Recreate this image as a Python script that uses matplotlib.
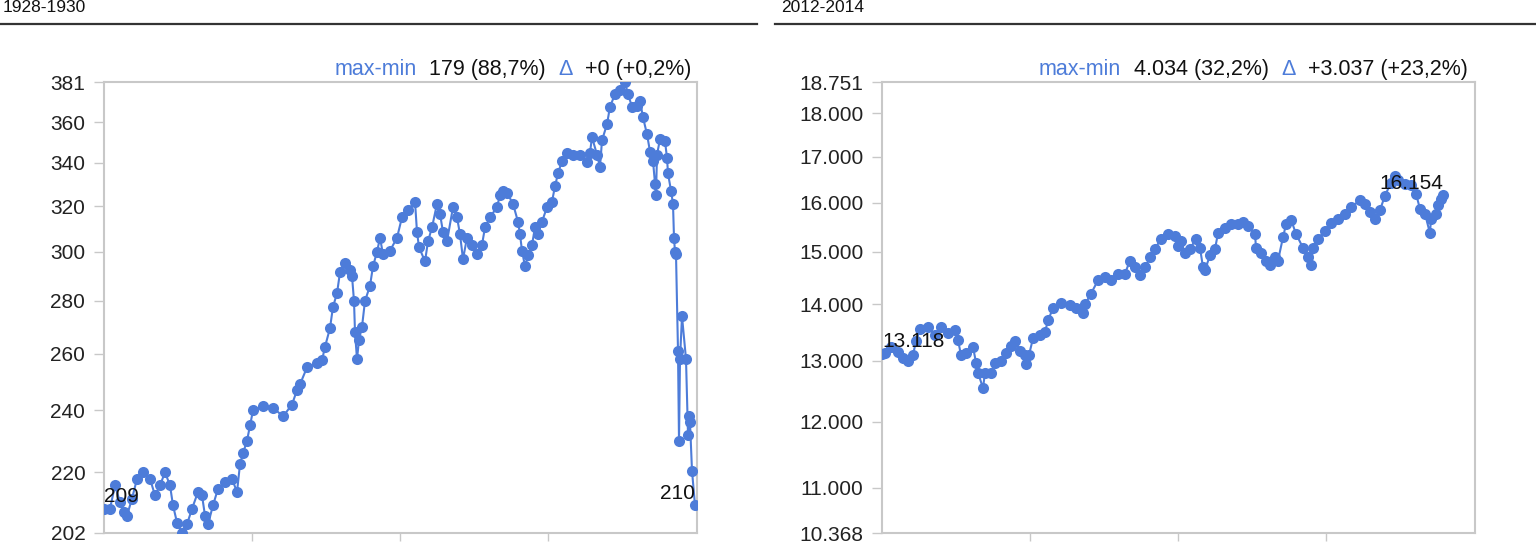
import matplotlib
matplotlib.use("Agg")
import matplotlib.pyplot as plt
from matplotlib.lines import Line2D
from matplotlib.ticker import NullLocator

plt.rcParams['font.family'] = ['Liberation Sans', 'DejaVu Sans']

# 1928-1930: trading-day index and close
left_day = [0, 6, 11, 16, 20, 23, 28, 33, 39, 46, 51, 56, 61, 66, 69, 73, 78, 83, 88, 94,
            98, 101, 104, 109, 114, 121, 128, 133, 136, 139, 143, 146, 149, 159, 169, 179, 188, 193, 196, 203,
            213, 218, 221, 226, 229, 233, 236, 241, 246, 248, 250, 251, 253, 255, 258, 261, 266, 269, 273, 276,
            279, 286, 293, 298, 304, 311, 313, 315, 321, 324, 328, 333, 336, 339, 343, 349, 353, 356, 359, 363,
            368, 373, 378, 381, 386, 393, 396, 399, 403, 409, 414, 416, 418, 421, 424, 428, 431, 434, 438, 443,
            448, 451, 454, 458, 463, 469, 476, 483, 486, 488, 493, 496, 498, 503, 506, 511, 516, 521, 524, 528,
            533, 536, 539, 543, 546, 549, 551, 552, 553, 556, 561, 563, 564, 567, 569, 570, 571, 572, 574, 575,
            576, 578, 582, 584, 585, 586, 588, 591]
left_close = [209, 209, 216, 211, 208, 207, 212, 218, 220, 218, 213, 216, 220, 216, 210, 205, 202, 204.5, 209, 214,
              213, 207, 204.5, 210, 215, 217, 218, 214, 222.5, 226, 230, 235, 240, 241.5, 241, 238, 242, 247, 249, 255,
              256.5, 257.5, 262.5, 269.5, 277.7, 283, 291.5, 295.5, 292.5, 290, 280, 268, 258, 265, 270, 280, 286, 294, 300, 306,
              299, 300.5, 306, 315, 318, 322, 308.5, 302, 296, 304.5, 310.5, 321, 316.5, 308.5, 304.5, 319.5, 315, 307.5, 297, 306,
              303, 299, 303, 310.5, 315, 319.5, 325, 327, 326, 321, 313, 307.5, 300.5, 294, 298.5, 303, 310.5, 307.5, 313, 319.5,
              322, 329, 335, 341, 345, 344, 344, 340.5, 345, 352.5, 344, 338, 351, 359, 368, 374.5, 377, 381, 374.5, 368,
              368.5, 371, 362.5, 354, 345.5, 341, 330, 325, 344, 351.5, 350.5, 342.5, 335, 327, 321, 306, 300, 299, 261, 230,
              258, 274, 258, 232, 238, 236, 220.5, 210]

# 2012-2014
right_day = [0, 3, 9, 16, 21, 26, 31, 34, 38, 46, 53, 59, 66, 73, 76, 79, 84, 91, 94, 96,
             101, 103, 109, 113, 119, 124, 129, 133, 138, 143, 144, 147, 151, 158, 163, 166, 171, 179, 188, 194,
             201, 203, 209, 216, 223, 229, 236, 243, 248, 253, 258, 263, 268, 273, 279, 286, 293, 296, 299, 303,
             308, 314, 318, 321, 323, 328, 333, 336, 343, 349, 356, 361, 366, 373, 374, 379, 384, 388, 393, 396,
             401, 404, 409, 414, 421, 426, 429, 431, 436, 443, 449, 456, 463, 469, 478, 483, 488, 493, 498, 503,
             509, 513, 516, 523, 529, 534, 538, 543, 548, 549, 554, 556, 559, 561]
right_close = [13118, 13130, 13240, 13150, 13050, 13000, 13100, 13340, 13560, 13590, 13450, 13590, 13480, 13530, 13360, 13100, 13130, 13240, 12970, 12800,
               12542, 12800, 12800, 12970, 13000, 13130, 13260, 13350, 13170, 13100, 12940, 13100, 13390, 13450, 13500, 13710, 13930, 14020, 13980, 13930,
               13840, 14000, 14200, 14450, 14510, 14450, 14580, 14580, 14830, 14700, 14550, 14700, 14890, 15060, 15260, 15360, 15320, 15120, 15220, 14970,
               15060, 15260, 15080, 14700, 14650, 14930, 15060, 15370, 15470, 15550, 15550, 15610, 15510, 15360, 15080, 14970, 14830, 14740, 14890, 14830,
               15290, 15550, 15650, 15360, 15080, 14890, 14740, 15080, 15260, 15420, 15570, 15670, 15770, 15910, 16050, 15970, 15810, 15670, 15850, 16150,
               16430, 16577, 16490, 16390, 16370, 16190, 15870, 15770, 15370, 15670, 15770, 15960, 16080, 16154]

left_ticks = [202, 220, 240, 260, 280, 300, 320, 340, 360, 381]
left_ticklabels = ["202", "220", "240", "260", "280", "300", "320", "340", "360", "381"]
right_ticks = [10368, 11000, 12000, 13000, 14000, 15000, 16000, 17000, 18000, 18751]
right_ticklabels = ["10.368", "11.000", "12.000", "13.000", "14.000", "15.000", "16.000", "17.000", "18.000", "18.751"]

panels = [
    ("1928-1930", left_day, left_close, left_ticks, left_ticklabels,
     ["max-min", "179 (88,7%)", "\u0394", "+0 (+0,2%)"], "209", "210"),
    ("2012-2014", right_day, right_close, right_ticks, right_ticklabels,
     ["max-min", "4.034 (32,2%)", "\u0394", "+3.037 (+23,2%)"], "13.118", "16.154"),
]

BLUE = "#4d7cd9"
GRAY = "#c8c8c8"
FS = 15

fig = plt.figure(figsize=(15.36, 5.46), dpi=100)
lefts = [104 / 1536, 882 / 1536]
right_ends = [0.991, 0.988]

for i, (title, days, closes, yt, ytl, stats, first_lbl, last_lbl) in enumerate(panels):
    ax = fig.add_axes([lefts[i], 13 / 546, 593 / 1536, 451 / 546])
    ax.plot(days, closes, '-o', color=BLUE, lw=1.5, ms=8, mew=0, zorder=3)
    ax.set_yscale('log')
    ax.set_ylim(yt[0], yt[-1])
    ax.set_xlim(0, 593)
    ax.set_yticks(yt)
    ax.set_yticklabels(ytl)
    ax.yaxis.set_minor_locator(NullLocator())
    ax.set_xticks([148, 296, 444])
    ax.set_xticklabels([])
    ax.tick_params(axis='y', length=7.5, width=1, color=GRAY, pad=6, labelsize=FS, labelcolor='#222222')
    ax.tick_params(axis='x', length=6, width=1, color=GRAY)
    for s in ax.spines.values():
        s.set_color(GRAY)
        s.set_linewidth(1.5)

    ax.annotate(first_lbl, (days[0], closes[0]), xytext=(0, 2), textcoords='offset points',
                ha='left', va='bottom', fontsize=FS, color='#111111', zorder=4)
    ax.annotate(last_lbl, (days[-1], closes[-1]), xytext=(0, 2), textcoords='offset points',
                ha='right', va='bottom', fontsize=FS, color='#111111', zorder=4)

    # stats line above the plot, built right to left
    colors = [BLUE, '#111111', BLUE, '#111111']
    prev = ax.text(right_ends[i], 1.005, stats[-1], transform=ax.transAxes, ha='right', va='bottom',
                   fontsize=15.5, color=colors[-1])
    for txt, col in zip(stats[-2::-1], colors[-2::-1]):
        prev = ax.annotate(txt, xy=(0, 0), xycoords=prev, xytext=(-9, 0), textcoords='offset points',
                           ha='right', va='bottom', fontsize=15.5, color=col)

    fig.text(lefts[i] - 104 / 1536 + 0.002, 1 - 8 / 546, title,
             ha='left', va='center', fontsize=12.5, color='#111111')

fig.add_artist(Line2D([0, 757 / 1536], [1 - 24 / 546] * 2, color='#333333', lw=1.6))
fig.add_artist(Line2D([775 / 1536, 1], [1 - 24 / 546] * 2, color='#333333', lw=1.6))

fig.savefig("out.png", dpi=100)
